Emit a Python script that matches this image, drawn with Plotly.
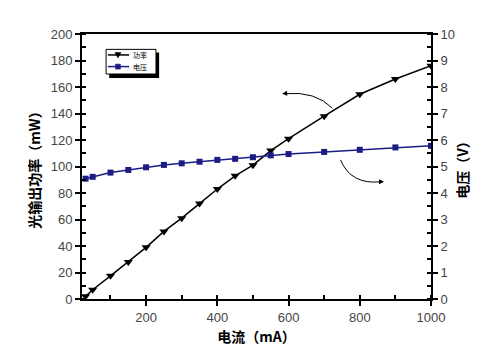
import plotly.graph_objects as go

current_ma = [30, 50, 100, 150, 200, 250, 300, 350, 400, 450, 500, 550, 600, 700, 800, 900, 1000]
power_mw = [2, 7, 17.5, 28, 39, 51, 61, 72, 83, 93, 101, 112, 121, 138, 154.5, 166, 176]
voltage_v = [4.54, 4.61, 4.77, 4.87, 4.97, 5.06, 5.12, 5.18, 5.25, 5.29, 5.35, 5.42, 5.47, 5.55, 5.63, 5.72, 5.78]

x_ticks = [200, 400, 600, 800, 1000]
series_names = ["功率", "电压"]

FONT = "Liberation Sans, Arial, sans-serif"
CJK = "Noto Sans CJK SC, sans-serif"
NAVY = "#1c1c86"

fig = go.Figure()
fig.add_trace(go.Scatter(
    x=current_ma, y=power_mw, name=series_names[0], mode="lines+markers",
    line=dict(color="black", width=1.5),
    marker=dict(symbol="triangle-down", size=8, color="black"),
))
fig.add_trace(go.Scatter(
    x=current_ma, y=voltage_v, name=series_names[1], mode="lines+markers", yaxis="y2",
    line=dict(color=NAVY, width=1.5),
    marker=dict(symbol="square", size=6, color=NAVY),
))

axis_common = dict(
    showline=True, linecolor="black", linewidth=2, automargin=False,
    ticks="outside", ticklen=5, tickwidth=1.5, tickcolor="black",
    showgrid=False, zeroline=False,
    tickfont=dict(family=FONT, size=13, color="#444"),
)
title_font = dict(family=CJK, size=14, color="black", weight="bold")

# page body has an 8px margin, so the figure is shrunk to fit the 500x355 window
fig.update_layout(
    width=492, height=347,
    margin=dict(l=74, r=69, t=26, b=56),
    paper_bgcolor="white", plot_bgcolor="white",
    showlegend=False,
    xaxis=dict(
        **axis_common, range=[20, 1000], tickvals=x_ticks, mirror=True,
        minor=dict(dtick=100, tick0=0, ticks="inside", ticklen=4, tickcolor="black"),
        title=dict(text="电流（mA）", font=title_font, standoff=9),
    ),
    yaxis=dict(
        **axis_common, range=[0, 200], dtick=20,
        minor=dict(dtick=10, ticks="inside", ticklen=4, tickcolor="black"),
        title=dict(text="光输出功率（mW）", font=title_font, standoff=7),
    ),
    yaxis2=dict(
        **axis_common, range=[0, 10], dtick=1, overlaying="y", side="right",
        minor=dict(dtick=0.5, ticks="inside", ticklen=4, tickcolor="black"),
        title=dict(text="电压（V）", font=title_font, standoff=4),
    ),
)

# ---- hand-drawn legend (paper coords) ----
PX = 1 / 349.0
PY = 1 / 265.0
fig.add_shape(type="rect", xref="paper", yref="paper",
              x0=0.078, x1=0.221, y0=0.834, y1=0.930,
              fillcolor="black", line=dict(width=0))
fig.add_shape(type="rect", xref="paper", yref="paper",
              x0=0.069, x1=0.212, y0=0.849, y1=0.942,
              fillcolor="white", line=dict(color="black", width=1))
legend_rows = [(0.921, "black", "tri"), (0.877, NAVY, "sq")]
for (ly, col, sym), name in zip(legend_rows, series_names):
    fig.add_shape(type="line", xref="paper", yref="paper",
                  x0=0.074, x1=0.135, y0=ly, y1=ly, line=dict(color=col, width=1.5))
    mx = 0.103
    if sym == "tri":
        path = (f"M {mx-3*PX} {ly+2.5*PY} L {mx+3*PX} {ly+2.5*PY} L {mx} {ly-3*PY} Z")
    else:
        path = (f"M {mx-2.5*PX} {ly-2.5*PY} L {mx+2.5*PX} {ly-2.5*PY} L {mx+2.5*PX} {ly+2.5*PY} "
                f"L {mx-2.5*PX} {ly+2.5*PY} Z")
    fig.add_shape(type="path", xref="paper", yref="paper", path=path,
                  fillcolor=col, line=dict(color=col, width=0.5))
    fig.add_annotation(x=0.143, y=ly, xref="paper", yref="paper", text=name,
                       showarrow=False, xanchor="left", yanchor="middle", borderpad=0,
                       font=dict(family=CJK, size=7, color="black"))

# ---- curved arrows ----
fig.add_shape(type="path", xref="x", yref="y",
              path="M 723 144 Q 676 157 590 155", line=dict(color="black", width=1))
fig.add_annotation(x=582, y=155, ax=600, ay=155.3, xref="x", yref="y", axref="x", ayref="y",
                   text="", showarrow=True, arrowhead=2, arrowsize=1, arrowwidth=1, arrowcolor="black")
fig.add_shape(type="path", xref="x", yref="y",
              path="M 746 105 Q 775 86 860 88.5", line=dict(color="black", width=1))
fig.add_annotation(x=868, y=88.5, ax=850, ay=88.5, xref="x", yref="y", axref="x", ayref="y",
                   text="", showarrow=True, arrowhead=2, arrowsize=1, arrowwidth=1, arrowcolor="black")

fig.write_html("out.html")
